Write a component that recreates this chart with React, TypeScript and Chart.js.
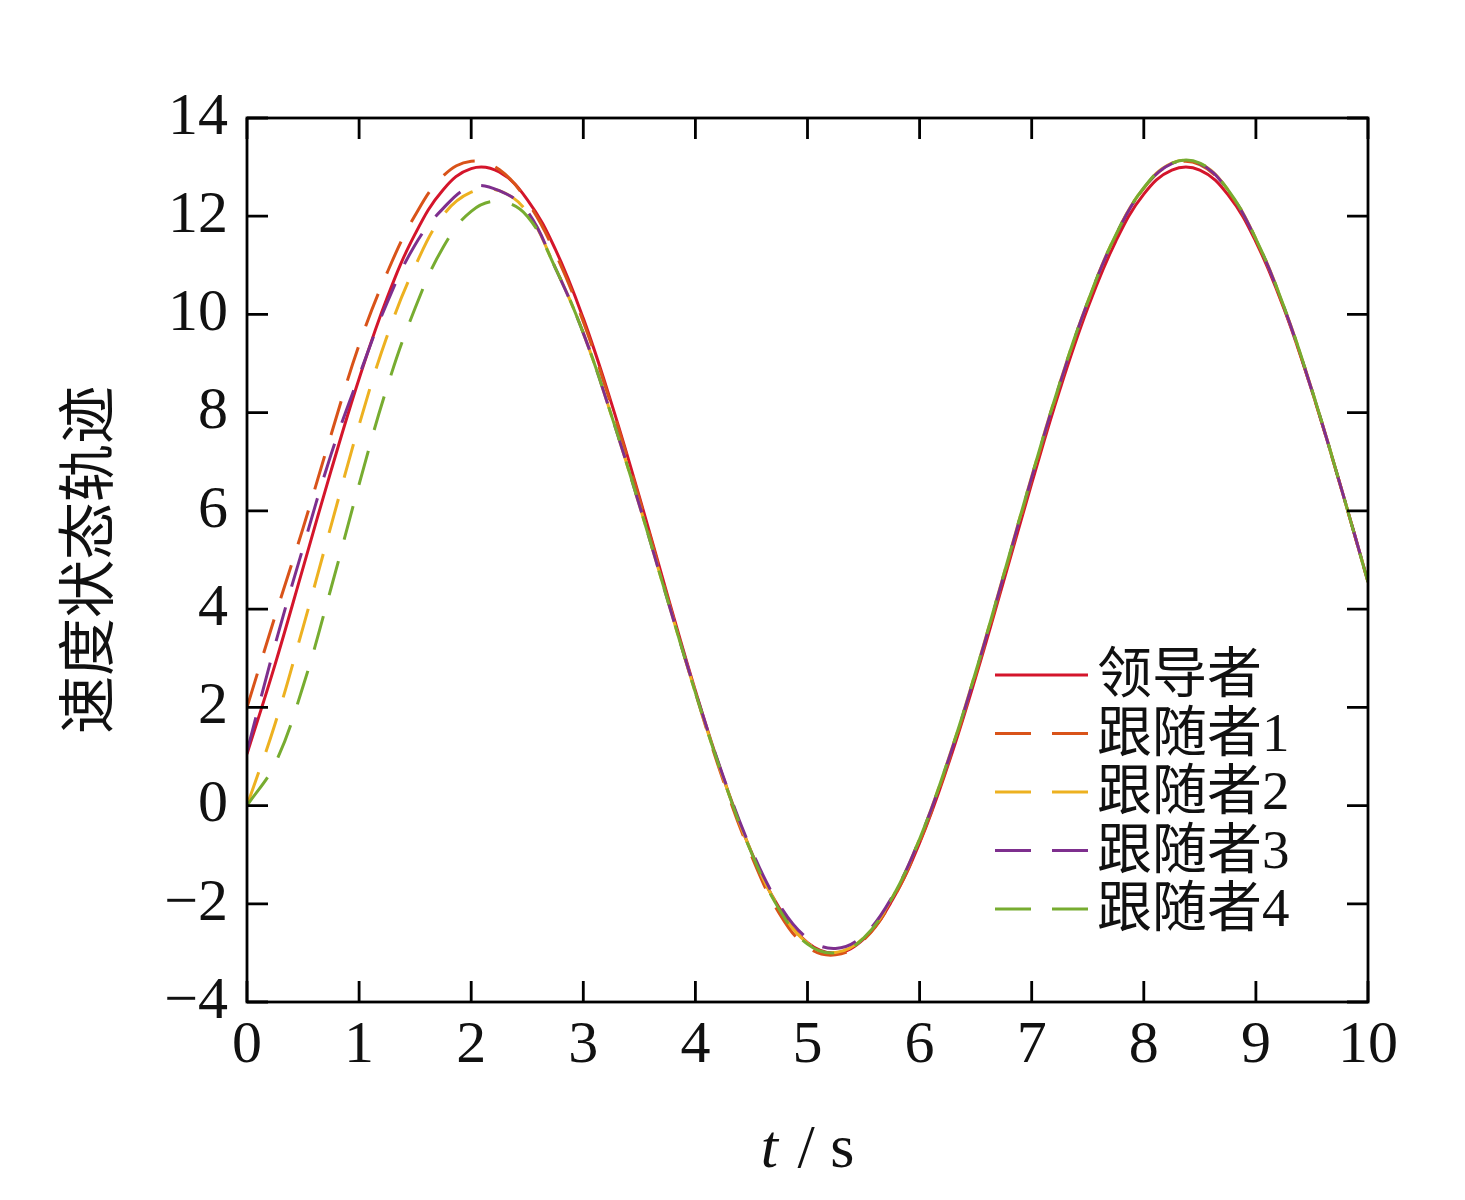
import { useEffect, useRef } from 'react';
import { Chart, registerables } from 'chart.js';

Chart.register(...registerables);

// time (s)
const timeS = [
  0, 0.25, 0.5, 0.75, 1, 1.25, 1.5, 1.75, 2, 2.25, 2.5, 2.75, 3, 3.25, 3.5, 3.75, 4, 4.25, 4.5, 4.75,
  5, 5.25, 5.5, 5.75, 6, 6.25, 6.5, 6.75, 7, 7.25, 7.5, 7.75, 8, 8.25, 8.5, 8.75, 9, 9.25, 9.5, 9.75, 10,
];

const leader = [
  1.05, 2.87, 4.84, 6.82, 8.69, 10.34, 11.64, 12.54, 12.97, 12.9, 12.34, 11.33, 9.92, 8.2, 6.29, 4.29, 2.34, 0.56, -0.95, -2.09,
  -2.79, -3.0, -2.72, -1.95, -0.76, 0.8, 2.61, 4.57, 6.56, 8.46, 10.13, 11.49, 12.45, 12.94, 12.94, 12.44, 11.48, 10.12, 8.44, 6.55, 4.56,
];

const follower1 = [
  2.0, 3.85, 5.65, 7.55, 9.38, 10.85, 12.02, 12.82, 13.12, 12.95, 12.3, 11.25, 9.85, 8.15, 6.25, 4.25, 2.3, 0.5, -1.02, -2.2,
  -2.88, -3.04, -2.74, -1.95, -0.74, 0.84, 2.66, 4.63, 6.64, 8.55, 10.24, 11.6, 12.57, 13.06, 13.05, 12.52, 11.52, 10.14, 8.44, 6.54, 4.55,
];

const follower2 = [
  0.0, 1.66, 3.63, 5.7, 7.75, 9.56, 10.98, 12.02, 12.49, 12.52, 12.08, 10.95, 9.62, 7.95, 6.12, 4.2, 2.3, 0.55, -0.95, -2.1,
  -2.8, -2.99, -2.7, -1.9, -0.68, 0.9, 2.72, 4.7, 6.7, 8.6, 10.26, 11.62, 12.58, 13.08, 13.08, 12.54, 11.54, 10.16, 8.46, 6.55, 4.55,
];

const follower3 = [
  1.1, 3.27, 5.25, 7.15, 8.75, 10.24, 11.42, 12.16, 12.6, 12.52, 12.1, 10.95, 9.62, 7.95, 6.12, 4.2, 2.32, 0.58, -0.9, -2.02,
  -2.7, -2.91, -2.64, -1.88, -0.68, 0.88, 2.7, 4.68, 6.68, 8.58, 10.25, 11.61, 12.57, 13.07, 13.07, 12.53, 11.53, 10.15, 8.45, 6.55, 4.56,
];

const follower4 = [
  0.0, 0.85, 2.43, 4.43, 6.54, 8.52, 10.13, 11.37, 12.1, 12.3, 12.0, 10.95, 9.62, 7.95, 6.12, 4.2, 2.3, 0.55, -0.96, -2.12,
  -2.82, -3.0, -2.7, -1.9, -0.68, 0.9, 2.72, 4.7, 6.7, 8.6, 10.26, 11.62, 12.58, 13.08, 13.08, 12.54, 11.54, 10.16, 8.46, 6.55, 4.55,
];

const seriesNames = ['领导者', '跟随者1', '跟随者2', '跟随者3', '跟随者4'];
const seriesColors = ['#d4152b', '#d95319', '#edb120', '#7e2f8e', '#77ac30'];
const seriesValues = [leader, follower1, follower2, follower3, follower4];

const xTickValues = [0, 1, 2, 3, 4, 5, 6, 7, 8, 9, 10];
const yTickValues = [-4, -2, 0, 2, 4, 6, 8, 10, 12, 14];
const yAxisTitle = '速度状态轨迹';
const xAxisTitleVar = 't';
const xAxisTitleUnit = ' / s';

const NUM_FONT = "'Liberation Serif', 'Times New Roman', serif";
const CJK_FONT = "'Liberation Serif', 'Noto Sans CJK SC', serif";
const DASH = [35, 22];
const LW = 3;

const decorPlugin = {
  id: 'decor',
  afterDraw(chart: any) {
    const { ctx, chartArea: a, scales } = chart;
    const x = scales.x;
    const y = scales.y;
    const TL = 21;
    ctx.save();
    ctx.strokeStyle = '#000';
    ctx.lineWidth = 2.8;
    ctx.lineCap = 'butt';
    ctx.setLineDash([]);
    ctx.strokeRect(a.left, a.top, a.right - a.left, a.bottom - a.top);
    ctx.beginPath();
    for (const v of xTickValues) {
      const px = x.getPixelForValue(v);
      ctx.moveTo(px, a.bottom);
      ctx.lineTo(px, a.bottom - TL);
      ctx.moveTo(px, a.top);
      ctx.lineTo(px, a.top + TL);
    }
    for (const v of yTickValues) {
      const py = y.getPixelForValue(v);
      ctx.moveTo(a.left, py);
      ctx.lineTo(a.left + TL, py);
      ctx.moveTo(a.right, py);
      ctx.lineTo(a.right - TL, py);
    }
    ctx.stroke();

    // legend
    const lx0 = a.left + 748;
    const lx1 = a.left + 841;
    const tx = a.left + 850;
    const ly0 = a.top + 557;
    const step = 58.5;
    ctx.font = `55px ${CJK_FONT}`;
    ctx.textBaseline = 'middle';
    ctx.textAlign = 'left';
    seriesNames.forEach((name, i) => {
      const ly = ly0 + i * step;
      ctx.strokeStyle = seriesColors[i];
      ctx.lineWidth = LW;
      ctx.setLineDash(i === 0 ? [] : [36, 21]);
      ctx.beginPath();
      ctx.moveTo(lx0, ly);
      ctx.lineTo(lx1, ly);
      ctx.stroke();
      ctx.setLineDash([]);
      ctx.fillStyle = '#111';
      ctx.fillText(name, tx, ly + 3);
    });

    // y title
    ctx.save();
    ctx.translate(86, (a.top + a.bottom) / 2);
    ctx.rotate(-Math.PI / 2);
    ctx.font = `58px 'Noto Sans CJK SC'`;
    ctx.textAlign = 'center';
    ctx.textBaseline = 'middle';
    ctx.fillStyle = '#111';
    ctx.fillText(yAxisTitle, 0, 0);
    ctx.restore();

    // x title
    ctx.textBaseline = 'alphabetic';
    ctx.textAlign = 'left';
    ctx.fillStyle = '#111';
    ctx.font = `italic 62px ${NUM_FONT}`;
    const w1 = ctx.measureText(xAxisTitleVar).width;
    ctx.font = `62px ${NUM_FONT}`;
    const w2 = ctx.measureText(xAxisTitleUnit).width;
    const cx = (a.left + a.right) / 2;
    const sx = cx - (w1 + w2 + 4) / 2;
    ctx.font = `italic 62px ${NUM_FONT}`;
    ctx.fillText(xAxisTitleVar, sx, 1167);
    ctx.font = `62px ${NUM_FONT}`;
    ctx.fillText(xAxisTitleUnit, sx + w1 + 4, 1167);
    ctx.restore();
  },
};

export default function App() {
  const ref = useRef<HTMLCanvasElement | null>(null);

  useEffect(() => {
    if (!ref.current) return;
    const datasets = seriesValues.map((vals, i) => ({
      label: seriesNames[i],
      data: timeS.map((t, k) => ({ x: t, y: vals[k] })),
      borderColor: seriesColors[i],
      backgroundColor: seriesColors[i],
      borderWidth: LW,
      borderDash: i === 0 ? [] : DASH,
      pointRadius: 0,
      tension: 0.4,
      fill: false,
      order: 5 - i,
    }));
    const chart = new Chart(ref.current, {
      type: 'line',
      data: { datasets },
      plugins: [decorPlugin],
      options: {
        responsive: false,
        animation: false,
        devicePixelRatio: 1,
        layout: { padding: { top: 118, right: 97, left: 0, bottom: 0 } },
        plugins: { legend: { display: false }, tooltip: { enabled: false } },
        scales: {
          x: {
            type: 'linear',
            min: 0,
            max: 10,
            afterFit: (s: any) => {
              s.height = 198;
            },
            afterBuildTicks: (s: any) => {
              s.ticks = xTickValues.map((v) => ({ value: v }));
            },
            grid: { display: false, drawTicks: false },
            border: { display: false },
            ticks: {
              font: { family: NUM_FONT, size: 60 },
              color: '#111',
              padding: 8,
              maxRotation: 0,
              autoSkip: false,
            },
          },
          y: {
            type: 'linear',
            min: -4,
            max: 14,
            afterFit: (s: any) => {
              s.width = 247;
            },
            afterBuildTicks: (s: any) => {
              s.ticks = yTickValues.map((v) => ({ value: v }));
            },
            grid: { display: false, drawTicks: false },
            border: { display: false },
            ticks: {
              font: { family: NUM_FONT, size: 60 },
              color: '#111',
              padding: 19,
              autoSkip: false,
              callback: (v: any) => String(v).replace('-', '\u2212'),
            },
          },
        },
      },
    });
    return () => chart.destroy();
  }, []);

  return (
    <div style={{ position: 'fixed', left: 0, top: 0, width: 1465, height: 1200, background: '#fff' }}>
      <canvas ref={ref} width={1465} height={1200} style={{ width: 1465, height: 1200, display: 'block' }} />
    </div>
  );
}
